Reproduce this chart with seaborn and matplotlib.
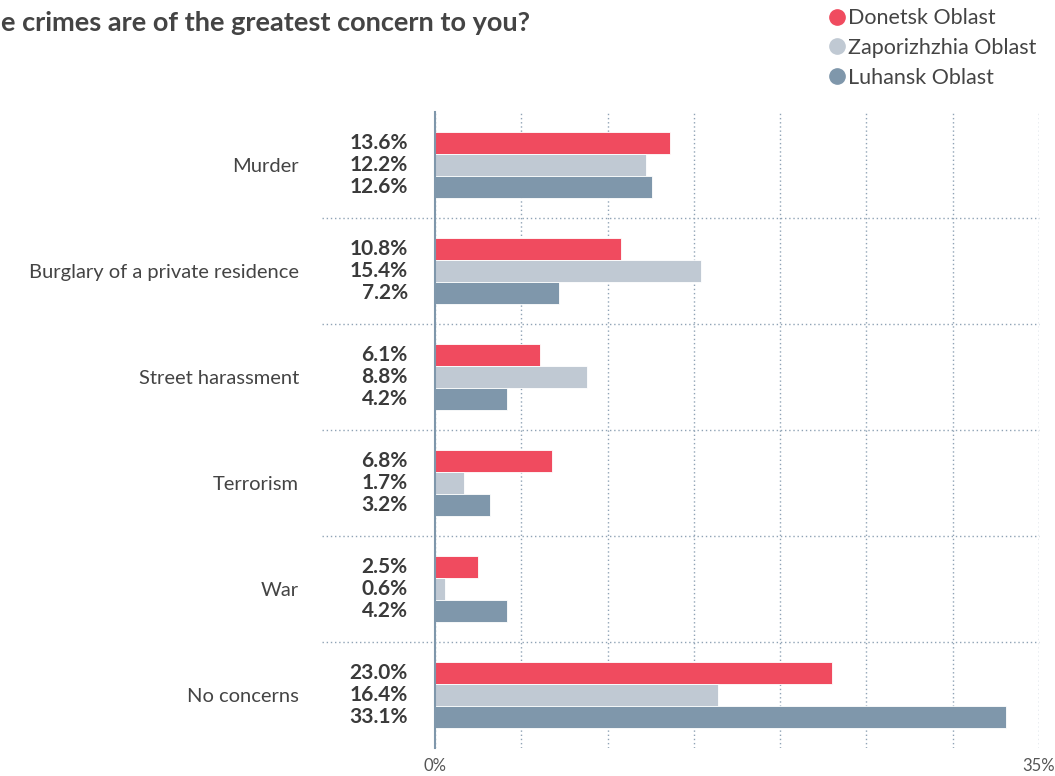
import pandas as pd
import matplotlib.pyplot as plt
import seaborn as sns
from matplotlib.lines import Line2D
import matplotlib.transforms as mtransforms

categories = ["Murder", "Burglary of a private residence", "Street harassment",
              "Terrorism", "War", "No concerns"]
regions = ["Donetsk Oblast", "Zaporizhzhia Oblast", "Luhansk Oblast"]
donetsk = [13.6, 10.8, 6.1, 6.8, 2.5, 23.0]
zaporizhzhia = [12.2, 15.4, 8.8, 1.7, 0.6, 16.4]
luhansk = [12.6, 7.2, 4.2, 3.2, 4.2, 33.1]
colors = ["#f04b5f", "#c0c9d3", "#7f97ab"]

df = pd.DataFrame({
    "category": categories * 3,
    "region": [regions[0]] * 6 + [regions[1]] * 6 + [regions[2]] * 6,
    "value": donetsk + zaporizhzhia + luhansk,
})

sns.set_style("white")
plt.rcParams["font.family"] = ["Lato", "DejaVu Sans"]
text_col = "#444444"

fig = plt.figure(figsize=(10.55, 7.76), dpi=100)
ax = fig.add_axes([0.4123, 0.0361, 0.5725, 0.8196])

sns.barplot(data=df, y="category", x="value", hue="region", order=categories,
            hue_order=regions, palette=colors, saturation=1, orient="h", width=0.62,
            gap=0, edgecolor="white", linewidth=0.6, legend=False, ax=ax)

ax.set_xlim(0, 35)
ax.set_ylim(len(categories) - 0.5, -0.5)
ticks = list(range(0, 36, 5))
ax.set_xticks(ticks)
ax.set_xticklabels(["0%" if t == 0 else ("35%" if t == 35 else "") for t in ticks],
                   fontsize=12, color="#555555")
ax.tick_params(axis="x", length=0, pad=7)
ax.tick_params(axis="y", length=0, pad=98, labelsize=14.5, labelcolor=text_col)
ax.set_xlabel("")
ax.set_ylabel("")
ax.grid(axis="x", linestyle=(0, (1, 2)), color="#8fa3b5", linewidth=1)
ax.set_axisbelow(True)
for s in ["top", "right", "bottom"]:
    ax.spines[s].set_visible(False)
ax.spines["left"].set_color("#7f97ab")
ax.spines["left"].set_linewidth(1.5)

# separators between categories, extending into label area
for i in range(len(categories) - 1):
    ax.axhline(i + 0.5, xmin=-0.187, xmax=1, color="#8fa3b5", linestyle=(0, (1, 2)),
               linewidth=1, clip_on=False)

# value labels to the left of the axis
trans = mtransforms.blended_transform_factory(ax.transAxes, ax.transData)
for cont in ax.containers:
    for bar in cont:
        yc = bar.get_y() + bar.get_height() / 2
        ax.text(-0.045, yc, f"{bar.get_width():.1f}%", transform=trans,
                ha="right", va="center", fontsize=15, fontweight="bold", color="#3a3a3a")

fig.text(0.001, 0.971, "e crimes are of the greatest concern to you?", fontsize=19.5,
         fontweight="bold", color=text_col, ha="left", va="center")

handles = [Line2D([], [], marker="o", linestyle="", markersize=11,
                  markerfacecolor=c, markeredgecolor=c) for c in colors]
fig.legend(handles, regions, loc="upper right", bbox_to_anchor=(0.995, 1.006),
           frameon=False, fontsize=15.5, handletextpad=0.12, handlelength=0.8,
           labelspacing=0.45, labelcolor=text_col, borderaxespad=0.2)

fig.savefig("out.png", dpi=100)
